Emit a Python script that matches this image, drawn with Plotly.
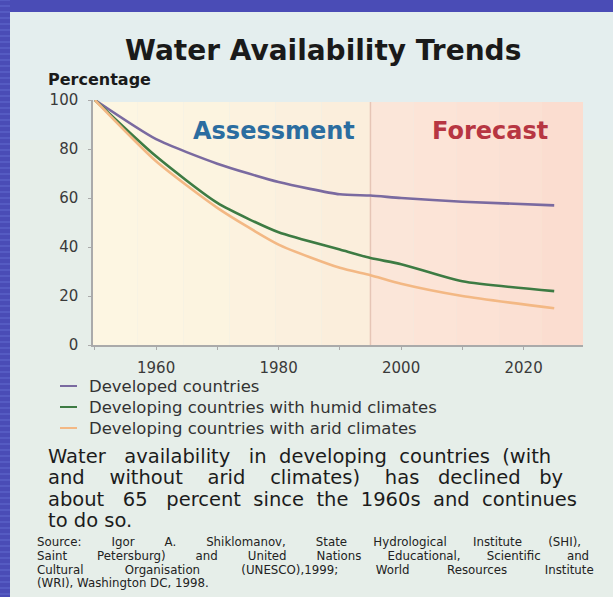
import plotly.graph_objects as go

years = [1950, 1960, 1970, 1980, 1990, 1995, 2000, 2010, 2025]
developed = [100, 84, 74, 66.5, 61.5, 61, 60, 58.5, 57]
humid = [100, 77, 58, 46, 39, 35.5, 33, 26, 22]
arid = [100, 75, 56, 41, 31.5, 28.5, 25, 20, 15]
series_names = ["Developed countries",
                "Developing countries with humid climates",
                "Developing countries with arid climates"]
series_colors = ["#7a6aa0", "#3d7b43", "#f3b884"]
x_ticks = [1950, 1960, 1970, 1980, 1990, 2000, 2010, 2020, 2030]
x_ticklabels = ["", "1960", "", "1980", "", "2000", "", "2020", ""]
y_ticks = [0, 20, 40, 60, 80, 100]
title = "Water Availability Trends"
para = ["Water availability in developing countries (with",
        "and without arid climates) has declined by",
        "about 65 percent since the 1960s and continues",
        "to do so."]
src = ["Source: Igor A. Shiklomanov, State Hydrological Institute (SHI),",
       "Saint Petersburg) and United Nations Educational, Scientific and",
       "Cultural Organisation (UNESCO),1999; World Resources Institute",
       "(WRI), Washington DC, 1998."]

FONT = "DejaVu Sans"
W, H = 613, 597
L, R, T, B = 93, 30, 100, 252
PW, PH = W - L - R, H - T - B

def px(x):
    return (x - L) / PW

def py(y):
    return (H - B - y) / PH

# DejaVu Sans advance widths (units of 1/2048 em) for justification
ADV = {" ": 651, "(": 799, ")": 799, ",": 651, ".": 651, ":": 690, ";": 690, "-": 739,
       "A": 1401, "C": 1430, "D": 1577, "E": 1294, "É": 1294, "H": 1540, "I": 604, "N": 1532,
       "O": 1612, "P": 1235, "R": 1423, "S": 1300, "U": 1499, "W": 2025, "G": 1587, "M": 1767,
       "a": 1255, "b": 1300, "c": 1126, "d": 1300, "e": 1260, "f": 721, "g": 1300, "h": 1298,
       "i": 569, "j": 569, "k": 1186, "l": 569, "m": 1995, "n": 1298, "o": 1253, "p": 1300,
       "q": 1300, "r": 842, "s": 1067, "t": 803, "u": 1298, "v": 1212, "w": 1675, "x": 1212,
       "y": 1212, "z": 1075}

def text_width(s, size):
    return sum(ADV.get(c, 1303) for c in s) / 2048 * size

def justify(s, size, target):
    words = s.split(" ")
    gaps = len(words) - 1
    extra = target - text_width(s, size)
    if gaps <= 0 or extra <= 0:
        return s
    n = int(round(extra / (651 / 2048 * size)))
    out = words[0]
    for i, w in enumerate(words[1:]):
        k = n // gaps + (1 if i < n % gaps else 0)
        out += " " + "\u00a0" * k + w
    return out

fig = go.Figure()
for name, vals, col in zip(series_names, [developed, humid, arid], series_colors):
    fig.add_trace(go.Scatter(x=years, y=vals, mode="lines", name=name,
                             line=dict(color=col, width=2.6, shape="spline", smoothing=0.6),
                             showlegend=False))

shapes = []
# panel
shapes.append(dict(type="rect", xref="paper", yref="paper", x0=px(10), x1=px(614), y0=py(598), y1=py(12),
                   fillcolor="#e6eee9", line=dict(width=0), layer="below"))
shapes.append(dict(type="rect", xref="paper", yref="paper", x0=px(10), x1=px(614), y0=py(140), y1=py(12),
                   fillcolor="#e4eeee", line=dict(width=0), layer="below"))
# stripes on left blue edge
for i in range(0, 597, 6):
    shapes.append(dict(type="line", xref="paper", yref="paper", x0=px(0), x1=px(10),
                       y0=py(i), y1=py(i), line=dict(color="#5a60c6", width=1.5), layer="below"))
# assessment / forecast shading bands
assess_cols = ["#fdf6e2", "#fdf5e1", "#fcf4e0", "#fcf2df", "#fbf0de", "#fbeedc"]
fore_cols = ["#fbe6d9", "#fce4d7", "#fce2d5", "#fbe0d3", "#fbddd0"]
edges_a = [1949.7, 1957, 1964.5, 1972, 1979.5, 1987, 1995]
edges_f = [1995, 2002, 2009, 2016, 2023, 2029.7]
for c, a0, a1 in zip(assess_cols, edges_a[:-1], edges_a[1:]):
    shapes.append(dict(type="rect", xref="x", yref="paper", x0=a0, x1=a1, y0=0, y1=py(102),
                       fillcolor=c, line=dict(width=0), layer="below"))
for c, a0, a1 in zip(fore_cols, edges_f[:-1], edges_f[1:]):
    shapes.append(dict(type="rect", xref="x", yref="paper", x0=a0, x1=a1, y0=0, y1=py(102),
                       fillcolor=c, line=dict(width=0), layer="below"))
shapes.append(dict(type="line", xref="x", yref="paper", x0=1995, x1=1995, y0=0, y1=py(102),
                   line=dict(color="#e6c5b6", width=1.5), layer="below"))
# legend line markers
leg_y = [386, 407, 428]
for yy, col in zip(leg_y, series_colors):
    shapes.append(dict(type="line", xref="paper", yref="paper", x0=px(60), x1=px(77),
                       y0=py(yy), y1=py(yy), line=dict(color=col, width=2)))

ann = []
def text(x, y, s, size, color="#222", bold=False, xanchor="left"):
    ann.append(dict(xref="paper", yref="paper", x=px(x), y=py(y), text=("<b>%s</b>" % s) if bold else s,
                    showarrow=False, xanchor=xanchor, yanchor="middle", borderpad=0,
                    font=dict(size=size, color=color, family=FONT)))

text(323, 50, title, 28, "#1a1a1a", True, "center")
text(47, 80, "Percentage", 16, "#1a1a1a", True)
text(274, 131, "Assessment", 24, "#2b6da0", True, "center")
text(490, 131, "Forecast", 24, "#b73642", True, "center")
for yy, name in zip(leg_y, series_names):
    text(88, yy, name, 16.5, "#333")
para_targets = [507, 515, 527, 0]
for i, s in enumerate(para):
    line = justify(s, 19.5, para_targets[i])
    text(47, 456 + i * 21.5, line, 19.5, "#1c1c1c")
src_targets = [545, 552, 558, 0]
for i, s in enumerate(src):
    line = justify(s, 11.8, src_targets[i])
    text(36, 542 + i * 13.8, line, 11.8, "#222222")

fig.update_layout(
    width=W, height=H, margin=dict(l=L, r=R, t=T, b=B),
    paper_bgcolor="#4a4cb6", plot_bgcolor="rgba(0,0,0,0)",
    shapes=shapes, annotations=ann,
    xaxis=dict(range=[1949.7, 2029.7], tickvals=x_ticks, ticktext=x_ticklabels, ticks="outside",
               ticklen=3, tickcolor="#aaa", showgrid=False, zeroline=False, showline=True,
               linecolor="#aaa", linewidth=1.5, ticklabelstandoff=5,
               tickfont=dict(size=15, color="#3a3a3a", family=FONT)),
    yaxis=dict(range=[0, 100], tickvals=y_ticks, ticks="outside", ticklen=3, tickcolor="#aaa",
               showgrid=False, zeroline=False, showline=True, linecolor="#aaa", linewidth=1.5,
               ticklabelstandoff=7, tickfont=dict(size=15, color="#3a3a3a", family=FONT)),
)
fig.write_html("out.html")
